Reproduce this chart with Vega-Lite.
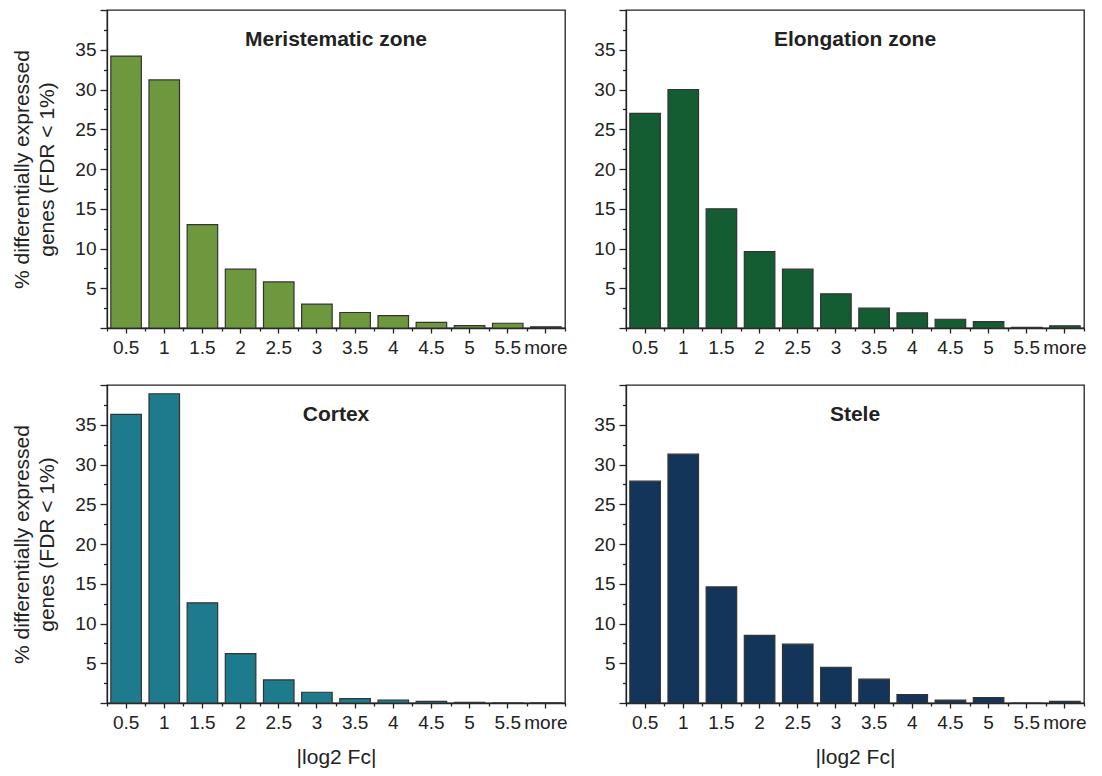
{
  "$schema": "https://vega.github.io/schema/vega-lite/v6.json",
  "background": "white",
  "padding": {"left": 11, "top": 8, "right": 5, "bottom": 5},
  "config": {
    "font": "Liberation Sans",
    "view": {"stroke": "#222", "strokeWidth": 1.3},
    "axis": {
      "grid": false,
      "domainColor": "#222",
      "domainWidth": 1.3,
      "tickColor": "#222",
      "tickWidth": 1.3,
      "labelColor": "#222",
      "labelFont": "Liberation Sans",
      "labelFontSize": 19,
      "titleColor": "#222",
      "titleFont": "Liberation Sans",
      "titleFontSize": 21,
      "titleFontWeight": "normal",
      "titleLineHeight": 25
    },
    "title": {"font": "Liberation Sans", "fontSize": 21, "fontWeight": "bold", "color": "#222", "anchor": "middle", "frame": "group", "baseline": "middle", "offset": -41}
  },
  "datasets": {
    "d": [
      {"panel": "Meristematic zone", "bin": "0.5", "pct": 34.2},
      {"panel": "Meristematic zone", "bin": "1", "pct": 31.2},
      {"panel": "Meristematic zone", "bin": "1.5", "pct": 13.0},
      {"panel": "Meristematic zone", "bin": "2", "pct": 7.4},
      {"panel": "Meristematic zone", "bin": "2.5", "pct": 5.8},
      {"panel": "Meristematic zone", "bin": "3", "pct": 3.0},
      {"panel": "Meristematic zone", "bin": "3.5", "pct": 1.95},
      {"panel": "Meristematic zone", "bin": "4", "pct": 1.55},
      {"panel": "Meristematic zone", "bin": "4.5", "pct": 0.7},
      {"panel": "Meristematic zone", "bin": "5", "pct": 0.3},
      {"panel": "Meristematic zone", "bin": "5.5", "pct": 0.6},
      {"panel": "Meristematic zone", "bin": "more", "pct": 0.15},
      {"panel": "Elongation zone", "bin": "0.5", "pct": 27.0},
      {"panel": "Elongation zone", "bin": "1", "pct": 30.0},
      {"panel": "Elongation zone", "bin": "1.5", "pct": 15.0},
      {"panel": "Elongation zone", "bin": "2", "pct": 9.6},
      {"panel": "Elongation zone", "bin": "2.5", "pct": 7.4},
      {"panel": "Elongation zone", "bin": "3", "pct": 4.3},
      {"panel": "Elongation zone", "bin": "3.5", "pct": 2.5},
      {"panel": "Elongation zone", "bin": "4", "pct": 1.9},
      {"panel": "Elongation zone", "bin": "4.5", "pct": 1.1},
      {"panel": "Elongation zone", "bin": "5", "pct": 0.8},
      {"panel": "Elongation zone", "bin": "5.5", "pct": 0.08},
      {"panel": "Elongation zone", "bin": "more", "pct": 0.28},
      {"panel": "Cortex", "bin": "0.5", "pct": 36.3},
      {"panel": "Cortex", "bin": "1", "pct": 38.9},
      {"panel": "Cortex", "bin": "1.5", "pct": 12.6},
      {"panel": "Cortex", "bin": "2", "pct": 6.2},
      {"panel": "Cortex", "bin": "2.5", "pct": 2.9},
      {"panel": "Cortex", "bin": "3", "pct": 1.35},
      {"panel": "Cortex", "bin": "3.5", "pct": 0.55},
      {"panel": "Cortex", "bin": "4", "pct": 0.38},
      {"panel": "Cortex", "bin": "4.5", "pct": 0.2},
      {"panel": "Cortex", "bin": "5", "pct": 0.08},
      {"panel": "Cortex", "bin": "5.5", "pct": 0.03},
      {"panel": "Cortex", "bin": "more", "pct": 0.02},
      {"panel": "Stele", "bin": "0.5", "pct": 27.9},
      {"panel": "Stele", "bin": "1", "pct": 31.3},
      {"panel": "Stele", "bin": "1.5", "pct": 14.6},
      {"panel": "Stele", "bin": "2", "pct": 8.5},
      {"panel": "Stele", "bin": "2.5", "pct": 7.4},
      {"panel": "Stele", "bin": "3", "pct": 4.5},
      {"panel": "Stele", "bin": "3.5", "pct": 3.0},
      {"panel": "Stele", "bin": "4", "pct": 1.05},
      {"panel": "Stele", "bin": "4.5", "pct": 0.35},
      {"panel": "Stele", "bin": "5", "pct": 0.68},
      {"panel": "Stele", "bin": "5.5", "pct": 0.0},
      {"panel": "Stele", "bin": "more", "pct": 0.2}
    ]
  },
  "columns": 2,
  "spacing": {"row": 57, "column": 61},
  "bounds": "flush",
  "concat": [
    {
      "width": 458, "height": 318,
      "title": {"text": "Meristematic zone"},
      "data": {"name": "d"},
      "transform": [{"filter": "datum.panel == 'Meristematic zone'"}],
      "layer": [
        {
          "mark": {"type": "bar", "color": "#6e983d", "stroke": "#333", "strokeWidth": 1.2},
          "encoding": {
            "x": {"field": "bin", "type": "ordinal", "sort": ["0.5","1","1.5","2","2.5","3","3.5","4","4.5","5","5.5","more"], "scale": {"paddingInner": 0.2, "paddingOuter": 0.1}, "axis": {"orient": "bottom", "title": null, "labelAngle": 0, "tickSize": 5, "labelPadding": 5}},
            "y": {"field": "pct", "type": "quantitative", "scale": {"domain": [0, 40], "nice": false}, "axis": {"orient": "left", "title": ["% differentially expressed", "genes (FDR < 1%)"], "values": [0,5,10,15,20,25,30,35,40], "labelExpr": "datum.value == 0 || datum.value == 40 ? '' : datum.label", "tickSize": 7, "labelPadding": 4, "titlePadding": 17}}
          }
        },
        {
          "mark": {"type": "bar", "opacity": 0},
          "encoding": {
            "x": {"field": "bin", "type": "ordinal", "sort": ["0.5","1","1.5","2","2.5","3","3.5","4","4.5","5","5.5","more"], "scale": {"paddingInner": 0, "paddingOuter": 0}, "axis": {"orient": "bottom", "title": null, "labels": false, "domain": false, "tickBand": "extent", "tickSize": 3}},
            "y": {"field": "pct", "type": "quantitative", "scale": {"domain": [0, 40], "nice": false}, "axis": {"orient": "left", "title": null, "labels": false, "domain": false, "values": [2.5,7.5,12.5,17.5,22.5,27.5,32.5,37.5], "tickSize": 3.5}}
          }
        }
      ],
      "resolve": {"scale": {"x": "independent", "y": "independent"}, "axis": {"x": "independent", "y": "independent"}}
    },
    {
      "width": 458, "height": 318,
      "title": {"text": "Elongation zone"},
      "data": {"name": "d"},
      "transform": [{"filter": "datum.panel == 'Elongation zone'"}],
      "layer": [
        {
          "mark": {"type": "bar", "color": "#145c32", "stroke": "#333", "strokeWidth": 1.2},
          "encoding": {
            "x": {"field": "bin", "type": "ordinal", "sort": ["0.5","1","1.5","2","2.5","3","3.5","4","4.5","5","5.5","more"], "scale": {"paddingInner": 0.2, "paddingOuter": 0.1}, "axis": {"orient": "bottom", "title": null, "labelAngle": 0, "tickSize": 5, "labelPadding": 5}},
            "y": {"field": "pct", "type": "quantitative", "scale": {"domain": [0, 40], "nice": false}, "axis": {"orient": "left", "title": null, "values": [0,5,10,15,20,25,30,35,40], "labelExpr": "datum.value == 0 || datum.value == 40 ? '' : datum.label", "tickSize": 7, "labelPadding": 4}}
          }
        },
        {
          "mark": {"type": "bar", "opacity": 0},
          "encoding": {
            "x": {"field": "bin", "type": "ordinal", "sort": ["0.5","1","1.5","2","2.5","3","3.5","4","4.5","5","5.5","more"], "scale": {"paddingInner": 0, "paddingOuter": 0}, "axis": {"orient": "bottom", "title": null, "labels": false, "domain": false, "tickBand": "extent", "tickSize": 3}},
            "y": {"field": "pct", "type": "quantitative", "scale": {"domain": [0, 40], "nice": false}, "axis": {"orient": "left", "title": null, "labels": false, "domain": false, "values": [2.5,7.5,12.5,17.5,22.5,27.5,32.5,37.5], "tickSize": 3.5}}
          }
        }
      ],
      "resolve": {"scale": {"x": "independent", "y": "independent"}, "axis": {"x": "independent", "y": "independent"}}
    },
    {
      "width": 458, "height": 318,
      "title": {"text": "Cortex"},
      "data": {"name": "d"},
      "transform": [{"filter": "datum.panel == 'Cortex'"}],
      "layer": [
        {
          "mark": {"type": "bar", "color": "#1e7b8d", "stroke": "#333", "strokeWidth": 1.2},
          "encoding": {
            "x": {"field": "bin", "type": "ordinal", "sort": ["0.5","1","1.5","2","2.5","3","3.5","4","4.5","5","5.5","more"], "scale": {"paddingInner": 0.2, "paddingOuter": 0.1}, "axis": {"orient": "bottom", "title": "|log2 Fc|", "labelAngle": 0, "tickSize": 5, "labelPadding": 5, "titlePadding": 14}},
            "y": {"field": "pct", "type": "quantitative", "scale": {"domain": [0, 40], "nice": false}, "axis": {"orient": "left", "title": ["% differentially expressed", "genes (FDR < 1%)"], "values": [0,5,10,15,20,25,30,35,40], "labelExpr": "datum.value == 0 || datum.value == 40 ? '' : datum.label", "tickSize": 7, "labelPadding": 4, "titlePadding": 17}}
          }
        },
        {
          "mark": {"type": "bar", "opacity": 0},
          "encoding": {
            "x": {"field": "bin", "type": "ordinal", "sort": ["0.5","1","1.5","2","2.5","3","3.5","4","4.5","5","5.5","more"], "scale": {"paddingInner": 0, "paddingOuter": 0}, "axis": {"orient": "bottom", "title": null, "labels": false, "domain": false, "tickBand": "extent", "tickSize": 3}},
            "y": {"field": "pct", "type": "quantitative", "scale": {"domain": [0, 40], "nice": false}, "axis": {"orient": "left", "title": null, "labels": false, "domain": false, "values": [2.5,7.5,12.5,17.5,22.5,27.5,32.5,37.5], "tickSize": 3.5}}
          }
        }
      ],
      "resolve": {"scale": {"x": "independent", "y": "independent"}, "axis": {"x": "independent", "y": "independent"}}
    },
    {
      "width": 458, "height": 318,
      "title": {"text": "Stele"},
      "data": {"name": "d"},
      "transform": [{"filter": "datum.panel == 'Stele'"}],
      "layer": [
        {
          "mark": {"type": "bar", "color": "#14355a", "stroke": "#333", "strokeWidth": 1.2},
          "encoding": {
            "x": {"field": "bin", "type": "ordinal", "sort": ["0.5","1","1.5","2","2.5","3","3.5","4","4.5","5","5.5","more"], "scale": {"paddingInner": 0.2, "paddingOuter": 0.1}, "axis": {"orient": "bottom", "title": "|log2 Fc|", "labelAngle": 0, "tickSize": 5, "labelPadding": 5, "titlePadding": 14}},
            "y": {"field": "pct", "type": "quantitative", "scale": {"domain": [0, 40], "nice": false}, "axis": {"orient": "left", "title": null, "values": [0,5,10,15,20,25,30,35,40], "labelExpr": "datum.value == 0 || datum.value == 40 ? '' : datum.label", "tickSize": 7, "labelPadding": 4}}
          }
        },
        {
          "mark": {"type": "bar", "opacity": 0},
          "encoding": {
            "x": {"field": "bin", "type": "ordinal", "sort": ["0.5","1","1.5","2","2.5","3","3.5","4","4.5","5","5.5","more"], "scale": {"paddingInner": 0, "paddingOuter": 0}, "axis": {"orient": "bottom", "title": null, "labels": false, "domain": false, "tickBand": "extent", "tickSize": 3}},
            "y": {"field": "pct", "type": "quantitative", "scale": {"domain": [0, 40], "nice": false}, "axis": {"orient": "left", "title": null, "labels": false, "domain": false, "values": [2.5,7.5,12.5,17.5,22.5,27.5,32.5,37.5], "tickSize": 3.5}}
          }
        }
      ],
      "resolve": {"scale": {"x": "independent", "y": "independent"}, "axis": {"x": "independent", "y": "independent"}}
    }
  ]
}
